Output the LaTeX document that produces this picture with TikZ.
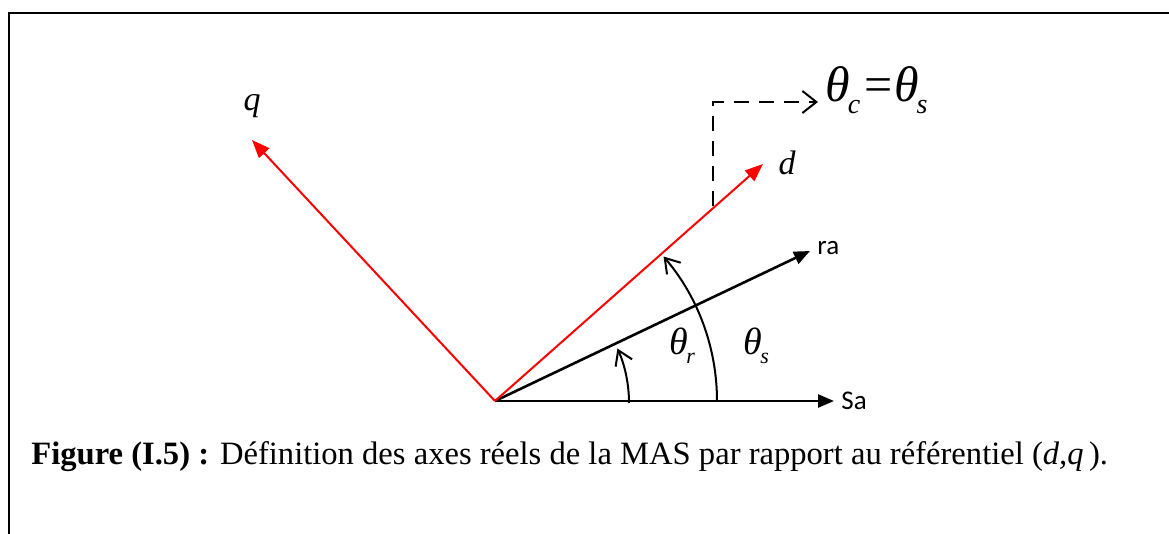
\documentclass[tikz,border=0pt]{standalone}
\usepackage{fontspec}
\setmainfont{Liberation Serif}
\newfontfamily\calib{Carlito}
\usetikzlibrary{arrows.meta}
\begin{document}
\begin{tikzpicture}[x=0.5pt,y=-0.5pt,
  redax/.style={draw=red, line width=1pt, -{Triangle[length=9pt,width=7pt]}},
  blkax/.style={draw=black, line width=1.3pt, -{Triangle[length=8pt,width=6.5pt]}},
  anglearc/.style={draw=black, line width=1pt, -{Straight Barb[length=7pt,width=9pt]}},
  dashlink/.style={draw=black, line width=1pt, dash pattern=on 7.5pt off 5pt, -{Straight Barb[length=7pt,width=11pt]}},
  ilabel/.style={font=\fontsize{17}{20}\selectfont\itshape, inner sep=0pt},
  slabel/.style={font=\calib\fontsize{13.5}{16}\selectfont, inner sep=0pt},
  tlabel/.style={font=\fontsize{19}{22}\selectfont\itshape, inner sep=0pt}
]
\useasboundingbox (0,0) rectangle (1169,534);
\fill[white] (0,0) rectangle (1169,534);
% frame
\draw[line width=1pt] (9,534) -- (9,13) -- (1169,13);
% origin and axis ends
\coordinate (O) at (495,401);
\coordinate (Sa) at (834,401);
\coordinate (ra) at (810,251);
\coordinate (d) at (763,164);
\coordinate (q) at (252,140);
% axes
\draw[blkax] (O) -- (Sa);
\draw[blkax] (O) -- (ra);
\draw[redax] (O) -- (d);
\draw[redax] (O) -- (q);
% labels
\node[slabel, anchor=west] (SaL) at (841,401) {Sa};
\node[slabel, anchor=west] (raL) at (817,248) {ra};
\node[ilabel] (dL) at (787,163) {d};
\node[ilabel] (qL) at (252,106) {q};
% angle arcs
\draw[anglearc] (717,401) arc[start angle=0, end angle=-40.6, radius=222];
\draw[anglearc] (629,403) arc[start angle=0, end angle=-24, radius=134];
\node[tlabel] (thr) at (682,346) {θ\kern-0.04em\raisebox{-0.5ex}{\fontsize{11}{12}\selectfont r}};
\node[tlabel] (ths) at (756,346) {θ\kern-0.04em\raisebox{-0.5ex}{\fontsize{11}{12}\selectfont s}};
% dashed link to theta_c = theta_s
\coordinate (dk) at (713,206);
\coordinate (corner) at (713,102);
\coordinate (dend) at (818,102);
\draw[dashlink] (dk) -- (corner) -- (dend);
\node[font=\fontsize{25}{30}\selectfont\itshape, inner sep=0pt, anchor=west] (thc) at (825,90)
  {θ\kern-0.04em\raisebox{-0.55ex}{\fontsize{14}{16}\selectfont c}\kern0.08em{\upshape =}\kern0.03emθ\kern-0.04em\raisebox{-0.55ex}{\fontsize{14}{16}\selectfont s}};
% caption
\node[font=\fontsize{16.3}{19}\selectfont, inner sep=0pt, anchor=west] (cap) at (31,457)
  {\textbf{Figure (I.5) :} Définition des axes réels de la MAS par rapport au référentiel (\textit{d,q\,}).};
\end{tikzpicture}
\end{document}
